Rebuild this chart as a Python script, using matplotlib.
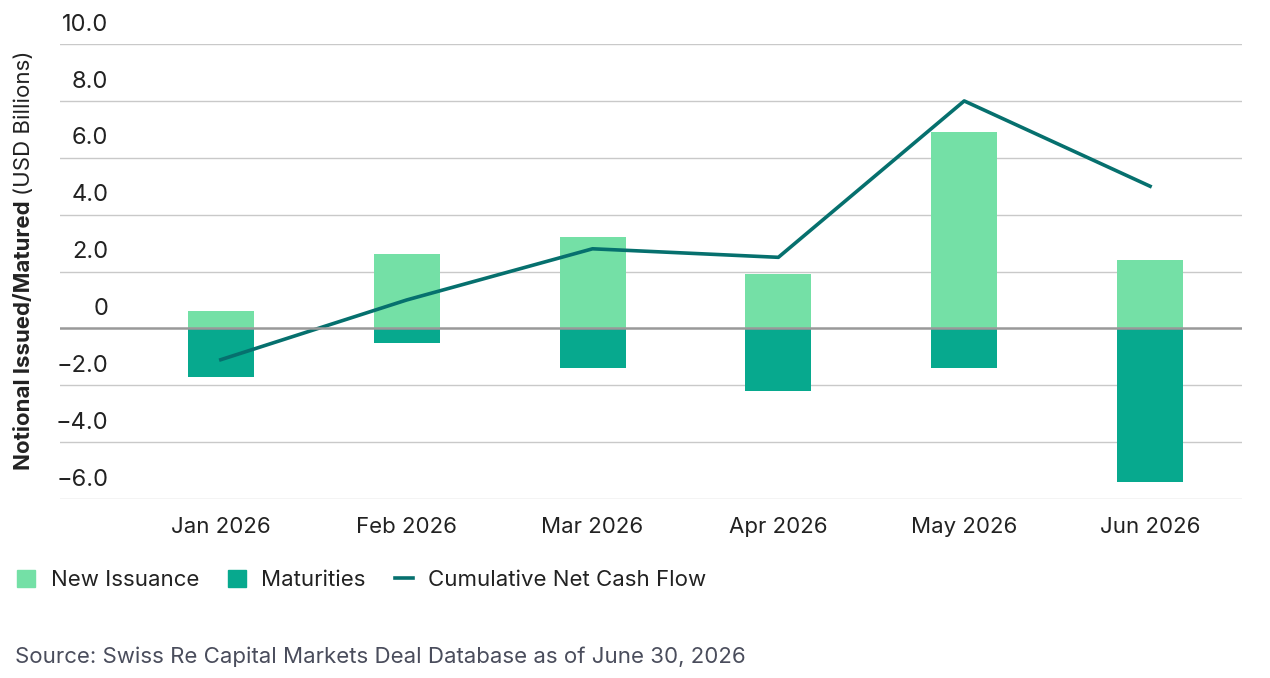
import numpy as np
import matplotlib
matplotlib.use("Agg")
import matplotlib.pyplot as plt
from matplotlib.patches import Patch
from matplotlib.lines import Line2D

months = ["Jan 2026", "Feb 2026", "Mar 2026", "Apr 2026", "May 2026", "Jun 2026"]
new_issuance = [0.6, 2.6, 3.2, 1.9, 6.9, 2.4]
maturities = [-1.7, -0.5, -1.4, -2.2, -1.4, -5.4]
cumulative = [-1.1, 1.0, 2.8, 2.5, 8.0, 5.0]
yticks = [-6, -4, -2, 0, 2, 4, 6, 8, 10]

c_new = "#74e0a6"
c_mat = "#07a98e"
c_line = "#06706e"
c_text = "#222222"

plt.rcParams['font.family'] = ['Inter', 'DejaVu Sans']

fig = plt.figure(figsize=(12.7, 6.78), dpi=100)
ax = fig.add_axes([0.047, 0.264, 0.931, 0.671])

x = np.arange(len(months))
w = 0.355
ax.bar(x, new_issuance, width=w, color=c_new, zorder=3)
ax.bar(x, maturities, width=w, color=c_mat, zorder=3)
ax.plot(x, cumulative, color=c_line, lw=2.6, zorder=4)

ax.set_xlim(-0.867, 5.495)
ax.set_ylim(-6, 10)
for t in yticks:
    ax.axhline(t, color="#999999" if t == 0 else "#c9c9c9",
               lw=1.8 if t == 0 else 1.0, zorder=1 if t else 5)
    lab = "0" if t == 0 else ("\u2212%.1f" % -t if t < 0 else "%.1f" % t)
    ax.annotate(lab, xy=(0, t), xycoords=("axes fraction", "data"),
                xytext=(35, 6), textcoords="offset points",
                ha="right", va="bottom", fontsize=17, color=c_text)

ax.set_yticks([])
ax.set_xticks(x)
ax.set_xticklabels(months, fontsize=16, color=c_text)
ax.tick_params(axis="x", length=0, pad=13)
for s in ax.spines.values():
    s.set_visible(False)

# y label in two weights
fig.canvas.draw()
r = fig.canvas.get_renderer()
t1 = fig.text(0.011, 0.307, "Notional Issued/Matured", rotation=90,
              fontsize=16, fontweight="bold", color=c_text,
              ha="left", va="bottom")
bb = t1.get_window_extent(r)
y2 = bb.y1 / fig.bbox.height + 0.008
fig.text(0.011, y2, "(USD Billions)", rotation=90, fontsize=16,
         color=c_text, ha="left", va="bottom")

handles = [Patch(color=c_new, label="New Issuance"),
           Patch(color=c_mat, label="Maturities"),
           Line2D([], [], color=c_line, lw=2.6, label="Cumulative Net Cash Flow")]
fig.legend(handles=handles, loc="center left", bbox_to_anchor=(-0.002, 0.145),
           ncol=3, frameon=False, fontsize=16, handlelength=0.8,
           handleheight=0.8, handletextpad=0.7, columnspacing=1.3,
           labelcolor=c_text)

fig.text(0.012, 0.016, "Source: Swiss Re Capital Markets Deal Database as of June 30, 2026",
         fontsize=16, color="#4a4d5c", ha="left", va="bottom")

fig.savefig("out.png", dpi=100)
